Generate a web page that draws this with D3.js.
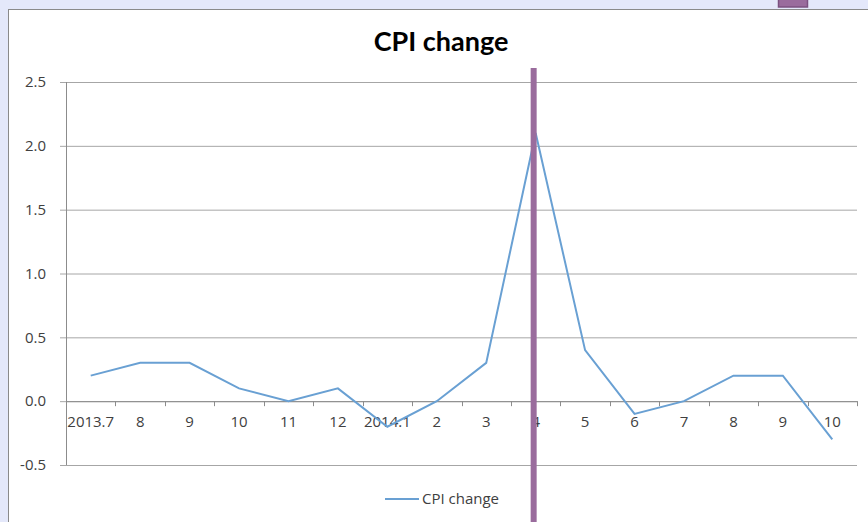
<!DOCTYPE html>
<html>
<head>
<meta charset="utf-8">
<script src="https://cdn.jsdelivr.net/npm/d3@7"></script>
<style>
  body { margin: 0; background: #e4e8fa; }
  svg { display: block; }
</style>
</head>
<body>
<svg></svg>
<script>
// categories (months) and CPI change values
var months = ["2013.7", "8", "9", "10", "11", "12", "2014.1", "2", "3", "4", "5", "6", "7", "8", "9", "10"];
var cpiValues = [0.2, 0.3, 0.3, 0.1, 0.0, 0.1, -0.2, 0.0, 0.3, 2.1, 0.4, -0.1, 0.0, 0.2, 0.2, -0.3];
var yTicks = [-0.5, 0.0, 0.5, 1.0, 1.5, 2.0, 2.5];
var markedMonth = 9; // index of the highlighted month

var data = months.map((m, i) => ({ idx: i, label: m, value: cpiValues[i] }));

const svgWidth = 868, svgHeight = 522;
var margin = { top: 82, right: 11, bottom: 57, left: 66 };
var width = svgWidth - margin.left - margin.right;
var height = svgHeight - margin.top - margin.bottom;

var svg = d3.select("svg")
    .attr("width", svgWidth)
    .attr("height", svgHeight);

// slide panel
svg.append("rect")
    .attr("x", 8.5).attr("y", 9.5)
    .attr("width", svgWidth).attr("height", svgHeight)
    .attr("fill", "#fff")
    .attr("stroke", "#8a8a8a")
    .attr("stroke-width", 1);

// small purple square at the top edge
svg.append("rect")
    .attr("x", 778.5).attr("y", -2)
    .attr("width", 29).attr("height", 9)
    .attr("fill", "#9a6c9d")
    .attr("stroke", "#7b5180")
    .attr("stroke-width", 1.5);

svg.append("text")
    .attr("x", 441)
    .attr("y", 51)
    .attr("text-anchor", "middle")
    .attr("font-family", "Lato")
    .attr("font-weight", "bold")
    .attr("font-size", 27)
    .attr("fill", "#000")
    .text("CPI change");

var g = svg.append("g")
    .attr("transform", "translate(" + margin.left + "," + margin.top + ")");

var x = d3.scaleBand()
    .domain(data.map(d => d.idx))
    .range([0, width]);

var y = d3.scaleLinear()
    .domain([-0.5, 2.5])
    .range([height, 0]);

// horizontal gridlines + y axis
var yAxis = d3.axisLeft(y)
    .tickValues(yTicks)
    .tickSize(-width - 6)
    .tickFormat(d => d.toFixed(1));

var yg = g.append("g")
    .attr("transform", "translate(-6,0)")
    .call(yAxis);
yg.select(".domain").remove();
yg.selectAll(".tick line")
    .attr("stroke", "#a6a6a6");
yg.selectAll(".tick text")
    .attr("font-family", "Open Sans")
    .attr("font-size", 15)
    .attr("fill", "#404040")
    .attr("x", -14);

g.append("line")
    .attr("x1", 0.5).attr("x2", 0.5)
    .attr("y1", 0).attr("y2", height)
    .attr("stroke", "#8c8c8c");

// category axis along zero
var xAxis = d3.axisBottom(x)
    .tickSize(0)
    .tickPadding(15)
    .tickFormat(i => months[i]);

var xg = g.append("g")
    .attr("transform", "translate(0," + y(0) + ")")
    .call(xAxis);
xg.select(".domain").attr("stroke", "#8c8c8c");
xg.selectAll(".tick text")
    .attr("font-family", "Open Sans")
    .attr("font-size", 15)
    .attr("fill", "#404040");

// tick marks between categories
xg.selectAll(".sep")
    .data(d3.range(1, months.length + 1))
    .enter()
    .append("line")
    .attr("class", "sep")
    .attr("x1", i => Math.round(i * x.bandwidth()) + 0.5)
    .attr("x2", i => Math.round(i * x.bandwidth()) + 0.5)
    .attr("y1", 0).attr("y2", 5)
    .attr("stroke", "#8c8c8c");

var line = d3.line()
    .x(d => x(d.idx) + x.bandwidth() / 2)
    .y(d => y(d.value));

g.append("path")
    .datum(data)
    .attr("d", line)
    .attr("fill", "none")
    .attr("stroke", "#69a0d3")
    .attr("stroke-width", 2);

// vertical highlight bar
g.append("line")
    .attr("x1", x(markedMonth) + x.bandwidth() / 2 - 2)
    .attr("x2", x(markedMonth) + x.bandwidth() / 2 - 2)
    .attr("y1", 68 - margin.top)
    .attr("y2", svgHeight)
    .attr("stroke", "#9a6c9d")
    .attr("stroke-width", 6);

// legend
var legend = svg.append("g").attr("transform", "translate(385,499)");
legend.append("line")
    .attr("x1", 0).attr("x2", 34)
    .attr("stroke", "#69a0d3")
    .attr("stroke-width", 2);
legend.append("text")
    .attr("x", 37).attr("y", 5)
    .attr("font-family", "Open Sans")
    .attr("font-size", 15)
    .attr("fill", "#404040")
    .text("CPI change");
</script>
</body>
</html>
